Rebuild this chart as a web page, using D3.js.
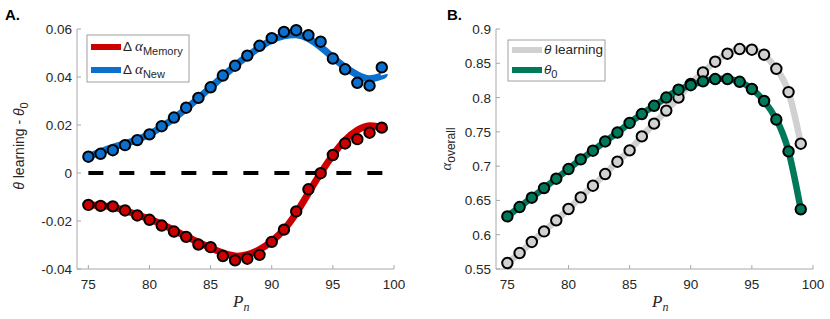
<!DOCTYPE html>
<html>
<head>
<meta charset="utf-8">
<script src="https://cdn.jsdelivr.net/npm/d3@7"></script>
<style>
  body { margin: 0; background: #fff; }
  text { font-family: "Liberation Sans", Arial, sans-serif; }
</style>
</head>
<body>
<div id="chart"></div>
<script>
// ---------- data ----------
const pn = d3.range(75, 100); // 75 .. 99

// Panel A: theta learning - theta0
const dMemory = [-0.0133, -0.0137, -0.0139, -0.0156, -0.0177, -0.0195, -0.0219, -0.0244, -0.0266, -0.0298,
                 -0.0309, -0.0346, -0.0364, -0.0357, -0.0341, -0.0287, -0.0236, -0.0160, -0.0068, -0.0001,
                 0.0075, 0.0123, 0.0141, 0.0168, 0.0189];
const dNew = [0.0068, 0.0080, 0.0095, 0.0116, 0.0137, 0.0161, 0.0195, 0.0231, 0.0272, 0.0313,
              0.0357, 0.0406, 0.0447, 0.0489, 0.0530, 0.0562, 0.0588, 0.0595, 0.0574, 0.0547,
              0.0477, 0.0432, 0.0376, 0.0364, 0.0440];

// fitted curves
const fitX = [75, 77, 79, 81, 83, 85, 86, 87, 88, 89, 90, 91, 92, 93, 94, 95, 96, 97, 98, 99, 99.2];
const fitMemory = [-0.0133, -0.0142, -0.0174, -0.0213, -0.0264, -0.0312, -0.0333, -0.0346, -0.0340, -0.0319,
                   -0.0284, -0.0236, -0.0167, -0.0084, -0.0001, 0.0075, 0.0137, 0.0178, 0.0197, 0.0188, 0.0183];
const fitNew = [0.0068, 0.0107, 0.0139, 0.0192, 0.0268, 0.0357, 0.0402, 0.0447, 0.0487, 0.0523,
                0.0554, 0.0571, 0.0576, 0.0560, 0.0525, 0.0482, 0.0441, 0.0409, 0.0393, 0.0404, 0.0410];

// Panel B: alpha overall
const thetaLearning = [0.5587, 0.5733, 0.5894, 0.6048, 0.6209, 0.6375, 0.6544, 0.6715, 0.6885, 0.7065,
                       0.7230, 0.7434, 0.7620, 0.7810, 0.8000, 0.8200, 0.8367, 0.8523, 0.8640, 0.8708,
                       0.8698, 0.8625, 0.8420, 0.8080, 0.7327];
const theta0 = [0.6267, 0.6404, 0.6540, 0.6680, 0.6817, 0.6958, 0.7098, 0.7225, 0.7360, 0.7490,
                0.7630, 0.7760, 0.7880, 0.8000, 0.8115, 0.8180, 0.8236, 0.8270, 0.8270, 0.8230,
                0.8125, 0.7950, 0.7680, 0.7215, 0.6370];

const xTicks = [75, 80, 85, 90, 95, 100];
const yTicksA = [-0.04, -0.02, 0, 0.02, 0.04, 0.06];
const yTicksB = [0.55, 0.6, 0.65, 0.7, 0.75, 0.8, 0.85, 0.9];

// ---------- styles ----------
const colors = {
  memory: '#cc0000',
  fresh: '#0b6fce',
  learning: '#d1d1d1',
  zero: '#00785a'
};
const axisColor = '#a8a8a8',
      textColor = '#262626';

const width = 830, height = 319;

const svg = d3.select('#chart')
  .append('svg')
  .attr('width', width)
  .attr('height', height);

// Draw a matlab-ish axis pair (left + bottom, inward ticks)
const drawAxes = (g, x, y, yTicks, yFmt) => {
  const [x0, x1] = x.range();
  const [y0, y1] = y.range();
  g.append('line').attr('x1', x0).attr('x2', x1).attr('y1', y0).attr('y2', y0)
    .attr('stroke', axisColor).attr('stroke-width', 1);
  g.append('line').attr('x1', x0).attr('x2', x0).attr('y1', y0).attr('y2', y1)
    .attr('stroke', axisColor).attr('stroke-width', 1);

  xTicks.forEach(t => {
    g.append('line').attr('x1', x(t)).attr('x2', x(t)).attr('y1', y0).attr('y2', y0 - 4)
      .attr('stroke', axisColor);
    g.append('text').attr('x', x(t)).attr('y', y0 + 20)
      .attr('text-anchor', 'middle').attr('font-size', '13.5px').attr('fill', textColor)
      .text(t);
  });
  yTicks.forEach(t => {
    g.append('line').attr('x1', x0).attr('x2', x0 + 4).attr('y1', y(t)).attr('y2', y(t))
      .attr('stroke', axisColor);
    g.append('text').attr('x', x0 - 5).attr('y', y(t) + 5)
      .attr('text-anchor', 'end').attr('font-size', '13.5px').attr('fill', textColor)
      .text(yFmt(t));
  });
};

const drawXLabel = (g, cx, cy) => {
  const t = g.append('text').attr('x', cx).attr('y', cy)
    .attr('text-anchor', 'middle').attr('fill', textColor)
    .style('font-family', '"Liberation Serif", "DejaVu Serif", serif');
  t.append('tspan').attr('font-size', '17px').attr('font-style', 'italic').text('P');
  t.append('tspan').attr('font-size', '12px').attr('font-style', 'italic').attr('dy', 4).text('n');
};

const drawMarkers = (g, x, y, xs, ys, fill) => {
  g.selectAll(null)
    .data(xs.map((d, i) => [d, ys[i]]))
    .enter()
    .append('circle')
    .attr('cx', d => x(d[0]))
    .attr('cy', d => y(d[1]))
    .attr('r', 5.2)
    .attr('fill', fill)
    .attr('stroke', '#000')
    .attr('stroke-width', 2);
};

const drawCurve = (g, x, y, xs, ys, color, w) => {
  const line = d3.line()
    .x(d => x(d[0]))
    .y(d => y(d[1]))
    .curve(d3.curveNatural);
  g.append('path')
    .datum(xs.map((d, i) => [d, ys[i]]))
    .attr('d', line)
    .attr('fill', 'none')
    .attr('stroke', color)
    .attr('stroke-width', w);
};

const legendBox = (g, bx, by, bw, bh, first, step, items) => {
  g.append('rect').attr('x', bx).attr('y', by).attr('width', bw).attr('height', bh)
    .attr('fill', '#fff').attr('stroke', '#a0a0a0').attr('stroke-width', 1);
  items.forEach((it, i) => {
    const ly = by + first + i * step;
    g.append('line').attr('x1', bx + 4).attr('x2', bx + 34).attr('y1', ly).attr('y2', ly)
      .attr('stroke', it.color).attr('stroke-width', 6);
    const t = g.append('text').attr('x', bx + 36).attr('y', ly + 4)
      .attr('font-size', '13.5px').attr('fill', textColor);
    it.render(t);
  });
};

// ---------- Panel A ----------
const xA = d3.scaleLinear().domain([74.07, 100]).range([77, 394]);
const yA = d3.scaleLinear().domain([-0.04, 0.06]).range([269, 29]);
const gA = svg.append('g').attr('class', 'panelA');

drawAxes(gA, xA, yA, yTicksA, d => d === 0 ? '0' : d3.format('.2f')(d).replace('−', '-'));

gA.append('line')
  .attr('x1', xA(75)).attr('x2', xA(99.2))
  .attr('y1', yA(0)).attr('y2', yA(0))
  .attr('stroke', '#000').attr('stroke-width', 4)
  .attr('stroke-dasharray', '15,16');

drawCurve(gA, xA, yA, fitX, fitMemory, colors.memory, 7);
drawCurve(gA, xA, yA, fitX, fitNew, colors.fresh, 7);
drawMarkers(gA, xA, yA, pn, dMemory, colors.memory);
drawMarkers(gA, xA, yA, pn, dNew, colors.fresh);

legendBox(gA, 87, 35, 102, 47, 12, 23, [
  { color: colors.memory, render: t => {
      t.append('tspan').text('Δ ');
      t.append('tspan').attr('font-style', 'italic').style('font-family', '"Liberation Serif", serif').attr('font-size', '15px').text('α');
      t.append('tspan').attr('font-size', '11px').attr('dy', 4).text('Memory');
  }},
  { color: colors.fresh, render: t => {
      t.append('tspan').text('Δ ');
      t.append('tspan').attr('font-style', 'italic').style('font-family', '"Liberation Serif", serif').attr('font-size', '15px').text('α');
      t.append('tspan').attr('font-size', '11px').attr('dy', 4).text('New');
  }}
]);

// y label A
const ylA = gA.append('text')
  .attr('transform', 'translate(24, 146) rotate(-90)')
  .attr('text-anchor', 'middle').attr('font-size', '14px').attr('fill', textColor);
ylA.append('tspan').attr('font-style', 'italic').text('θ');
ylA.append('tspan').text(' learning - ');
ylA.append('tspan').attr('font-style', 'italic').text('θ');
ylA.append('tspan').attr('font-size', '11px').attr('dy', 4).text('0');

drawXLabel(gA, xA(87.5), 307);

svg.append('text').attr('x', 5).attr('y', 20)
  .attr('font-size', '15px').attr('font-weight', 'bold').attr('fill', '#000').text('A.');

// ---------- Panel B ----------
const xB = d3.scaleLinear().domain([74.07, 100]).range([496, 813]);
const yB = d3.scaleLinear().domain([0.55, 0.9]).range([269, 29]);
const gB = svg.append('g').attr('class', 'panelB');

drawAxes(gB, xB, yB, yTicksB, d => String(+d.toFixed(2)));

drawCurve(gB, xB, yB, pn, thetaLearning, colors.learning, 6.5);
drawMarkers(gB, xB, yB, pn, thetaLearning, colors.learning);
drawCurve(gB, xB, yB, pn, theta0, colors.zero, 6.5);
drawMarkers(gB, xB, yB, pn, theta0, colors.zero);

legendBox(gB, 508, 40, 97, 41, 10, 20, [
  { color: colors.learning, render: t => {
      t.append('tspan').attr('font-style', 'italic').text('θ');
      t.append('tspan').text(' learning');
  }},
  { color: colors.zero, render: t => {
      t.append('tspan').attr('font-style', 'italic').text('θ');
      t.append('tspan').attr('font-size', '11px').attr('dy', 4).text('0');
  }}
]);

const ylB = gB.append('text')
  .attr('transform', 'translate(451, 149) rotate(-90)')
  .attr('text-anchor', 'middle').attr('fill', textColor);
ylB.append('tspan').attr('font-style', 'italic').attr('font-size', '15px')
  .style('font-family', '"Liberation Serif", serif').text('α');
ylB.append('tspan').attr('font-size', '12px').attr('dy', 4).text('overall');

drawXLabel(gB, xB(87.5), 307);

svg.append('text').attr('x', 447).attr('y', 20)
  .attr('font-size', '15px').attr('font-weight', 'bold').attr('fill', '#000').text('B.');
</script>
</body>
</html>
